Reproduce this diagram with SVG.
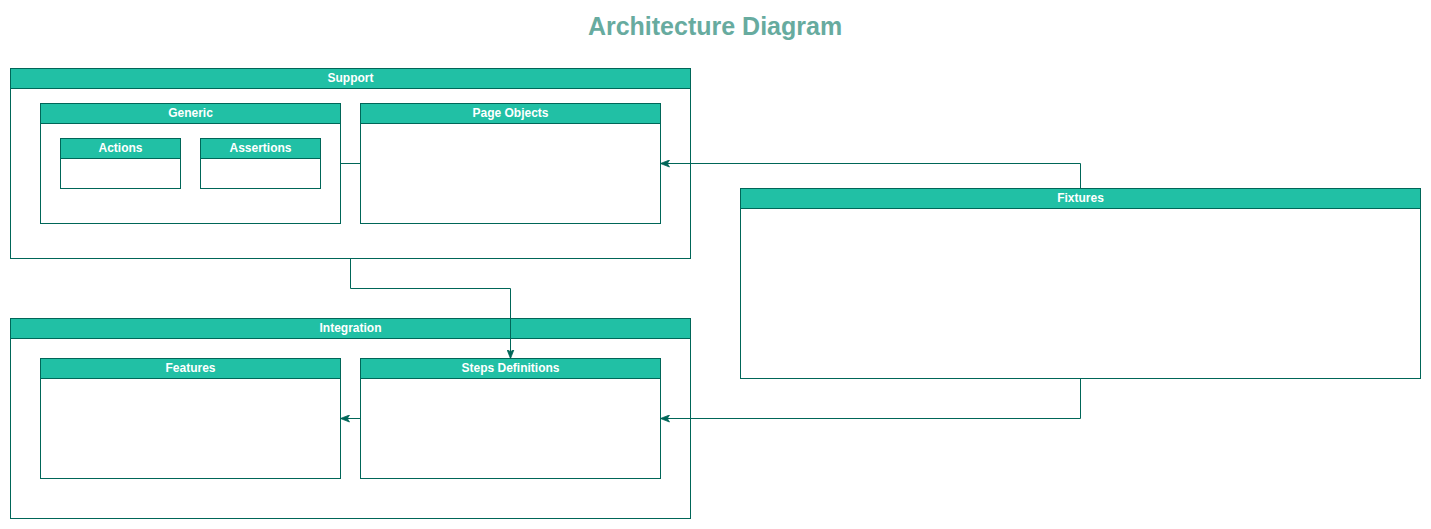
<svg xmlns="http://www.w3.org/2000/svg" width="1431" height="529" viewBox="0 0 1431 529">
<style>
.box{fill:#ffffff;stroke:#006658;stroke-width:1}
.hdr{fill:#21C0A5;stroke:#006658;stroke-width:1}
.lbl{font-family:"Liberation Sans",Arial,sans-serif;font-size:12px;font-weight:bold;fill:#ffffff;text-anchor:middle}
.title{font-family:"Liberation Sans",Arial,sans-serif;font-size:25px;font-weight:bold;fill:#67AB9F;text-anchor:middle}
.edge{fill:none;stroke:#006658;stroke-width:1}
</style>
<defs>
<marker id="arr" viewBox="0 0 10 8" refX="9" refY="4" markerWidth="10" markerHeight="8" markerUnits="userSpaceOnUse" orient="auto">
<path d="M0,0.5 L9,4 L0,7.5 L2.2,4 Z" fill="#006658" stroke="#006658" stroke-width="0.8"/>
</marker>
</defs>
<rect width="1431" height="529" fill="#ffffff"/>
<text class="title" x="715" y="35">Architecture Diagram</text>

<g id="support">
<rect class="box" x="10.5" y="68.5" width="680" height="190"/>
<rect class="hdr" x="10.5" y="68.5" width="680" height="20"/>
<text class="lbl" x="350.5" y="81.5">Support</text>
</g>
<g id="generic">
<rect class="box" x="40.5" y="103.5" width="300" height="120"/>
<rect class="hdr" x="40.5" y="103.5" width="300" height="20"/>
<text class="lbl" x="190.5" y="116.5">Generic</text>
</g>
<g id="actions">
<rect class="box" x="60.5" y="138.5" width="120" height="50"/>
<rect class="hdr" x="60.5" y="138.5" width="120" height="20"/>
<text class="lbl" x="120.5" y="151.5">Actions</text>
</g>
<g id="assertions">
<rect class="box" x="200.5" y="138.5" width="120" height="50"/>
<rect class="hdr" x="200.5" y="138.5" width="120" height="20"/>
<text class="lbl" x="260.5" y="151.5">Assertions</text>
</g>
<g id="page-objects">
<rect class="box" x="360.5" y="103.5" width="300" height="120"/>
<rect class="hdr" x="360.5" y="103.5" width="300" height="20"/>
<text class="lbl" x="510.5" y="116.5">Page Objects</text>
</g>
<g id="fixtures">
<rect class="box" x="740.5" y="188.5" width="680" height="190"/>
<rect class="hdr" x="740.5" y="188.5" width="680" height="20"/>
<text class="lbl" x="1080.5" y="201.5">Fixtures</text>
</g>
<g id="integration">
<rect class="box" x="10.5" y="318.5" width="680" height="200"/>
<rect class="hdr" x="10.5" y="318.5" width="680" height="20"/>
<text class="lbl" x="350.5" y="331.5">Integration</text>
</g>
<g id="features">
<rect class="box" x="40.5" y="358.5" width="300" height="120"/>
<rect class="hdr" x="40.5" y="358.5" width="300" height="20"/>
<text class="lbl" x="190.5" y="371.5">Features</text>
</g>
<g id="steps-definitions">
<rect class="box" x="360.5" y="358.5" width="300" height="120"/>
<rect class="hdr" x="360.5" y="358.5" width="300" height="20"/>
<text class="lbl" x="510.5" y="371.5">Steps Definitions</text>
</g>

<g id="connectors">
<path class="edge" d="M340.5,163.5 L360.5,163.5"/>
<path class="edge" d="M1080.5,188.5 L1080.5,163.5 L660.5,163.5" marker-end="url(#arr)"/>
<path class="edge" d="M1080.5,378.5 L1080.5,418.5 L660.5,418.5" marker-end="url(#arr)"/>
<path class="edge" d="M350.5,258.5 L350.5,288.5 L510.5,288.5 L510.5,358.5" marker-end="url(#arr)"/>
<path class="edge" d="M360.5,418.5 L340.5,418.5" marker-end="url(#arr)"/>
</g>
</svg>
